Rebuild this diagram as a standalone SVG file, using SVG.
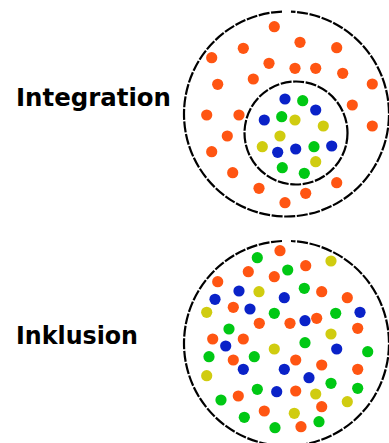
<svg xmlns="http://www.w3.org/2000/svg" width="389" height="443" viewBox="0 0 389 443">
<style>
.ring{fill:none;stroke:#000;stroke-width:2.2;stroke-dasharray:11 1.6}
.o{fill:#ff5512}.b{fill:#0a22c8}.g{fill:#00c814}.y{fill:#d0cc10}
.lbl{font-family:"DejaVu Sans","Liberation Sans",sans-serif;font-weight:bold;font-size:24px;fill:#000}
</style>
<defs>
<circle id="d" r="5.6"/>
</defs>
<g id="integration">
<text class="lbl" x="16" y="106" textLength="155" lengthAdjust="spacingAndGlyphs">Integration</text>
<path class="ring" d="M282,11.6 A102.5,102.5 0 1 0 291,11.6"/>
<circle class="ring" cx="296" cy="133" r="51.5"/>
<g class="o">
<use href="#d" x="274.3" y="26.7"/><use href="#d" x="300" y="42.3"/><use href="#d" x="336.7" y="47.7"/><use href="#d" x="243.3" y="48.3"/>
<use href="#d" x="211.7" y="57.7"/><use href="#d" x="269" y="63.3"/><use href="#d" x="295" y="68.3"/><use href="#d" x="315.7" y="68.3"/>
<use href="#d" x="342.7" y="73.3"/><use href="#d" x="253.3" y="79"/><use href="#d" x="217.7" y="84.3"/><use href="#d" x="372.3" y="84"/>
<use href="#d" x="352.3" y="105"/><use href="#d" x="206.7" y="115"/><use href="#d" x="239" y="115"/><use href="#d" x="372.3" y="126"/>
<use href="#d" x="227.3" y="136"/><use href="#d" x="211.7" y="151.7"/><use href="#d" x="232.7" y="172.7"/><use href="#d" x="336.7" y="182.7"/>
<use href="#d" x="259" y="188.3"/><use href="#d" x="305.7" y="193.3"/><use href="#d" x="285" y="202.7"/>
</g>
<g class="b">
<use href="#d" x="285" y="99"/><use href="#d" x="315.7" y="110"/><use href="#d" x="264.3" y="120"/><use href="#d" x="277.7" y="152.3"/>
<use href="#d" x="295.7" y="149"/><use href="#d" x="331.7" y="146"/>
</g>
<g class="g">
<use href="#d" x="302.7" y="100.7"/><use href="#d" x="281.7" y="116.7"/><use href="#d" x="314" y="146.7"/><use href="#d" x="282.3" y="167.7"/>
<use href="#d" x="304.3" y="173.3"/>
</g>
<g class="y">
<use href="#d" x="295" y="120"/><use href="#d" x="323.3" y="126"/><use href="#d" x="280" y="136"/><use href="#d" x="262.3" y="146.7"/>
<use href="#d" x="315.7" y="161.7"/>
</g>
</g>
<g id="inklusion">
<text class="lbl" x="16" y="344" textLength="122" lengthAdjust="spacingAndGlyphs">Inklusion</text>
<path class="ring" d="M282,241 A102.5,102.5 0 1 0 291,241"/>
<g class="o">
<use href="#d" x="280" y="250.7"/><use href="#d" x="305.7" y="265.7"/><use href="#d" x="248.3" y="271.7"/><use href="#d" x="274.3" y="276.7"/>
<use href="#d" x="217.7" y="281.7"/><use href="#d" x="321.7" y="291.7"/><use href="#d" x="347.3" y="297.7"/><use href="#d" x="233.3" y="307.3"/>
<use href="#d" x="259.3" y="323.3"/><use href="#d" x="290" y="323.3"/><use href="#d" x="316.7" y="318.3"/><use href="#d" x="357.7" y="328.3"/>
<use href="#d" x="212.7" y="339"/><use href="#d" x="243.3" y="339"/><use href="#d" x="233.3" y="360"/><use href="#d" x="295.7" y="360"/>
<use href="#d" x="321.7" y="365"/><use href="#d" x="357.7" y="369.3"/><use href="#d" x="295.7" y="391"/><use href="#d" x="238.3" y="396"/>
<use href="#d" x="321.7" y="406.7"/><use href="#d" x="264.3" y="411"/><use href="#d" x="301" y="426.7"/>
</g>
<g class="b">
<use href="#d" x="239" y="291"/><use href="#d" x="215" y="299.3"/><use href="#d" x="284.3" y="297.7"/><use href="#d" x="250" y="309"/>
<use href="#d" x="360" y="312.3"/><use href="#d" x="305" y="320.7"/><use href="#d" x="225.7" y="346"/><use href="#d" x="336.7" y="349"/>
<use href="#d" x="243.3" y="369.3"/><use href="#d" x="284.3" y="369.3"/><use href="#d" x="309" y="377.7"/><use href="#d" x="276.7" y="391.7"/>
</g>
<g class="g">
<use href="#d" x="257.3" y="257.7"/><use href="#d" x="287.7" y="270"/><use href="#d" x="304.3" y="288.3"/><use href="#d" x="274.3" y="313.3"/>
<use href="#d" x="335.7" y="313.3"/><use href="#d" x="229" y="329"/><use href="#d" x="305" y="342.7"/><use href="#d" x="367.7" y="351.7"/>
<use href="#d" x="209" y="356.7"/><use href="#d" x="254.3" y="356.7"/><use href="#d" x="331" y="383.3"/><use href="#d" x="357.7" y="388.3"/>
<use href="#d" x="257.3" y="389.3"/><use href="#d" x="221" y="400"/><use href="#d" x="244.3" y="417.3"/><use href="#d" x="319" y="421.7"/>
<use href="#d" x="275" y="427.7"/>
</g>
<g class="y">
<use href="#d" x="331" y="261"/><use href="#d" x="259" y="291.7"/><use href="#d" x="206.7" y="312.3"/><use href="#d" x="331" y="334"/>
<use href="#d" x="274.3" y="349"/><use href="#d" x="206.7" y="375.7"/><use href="#d" x="315.7" y="394"/><use href="#d" x="347.3" y="401.7"/>
<use href="#d" x="294.3" y="413.3"/>
</g>
</g>
</svg>
